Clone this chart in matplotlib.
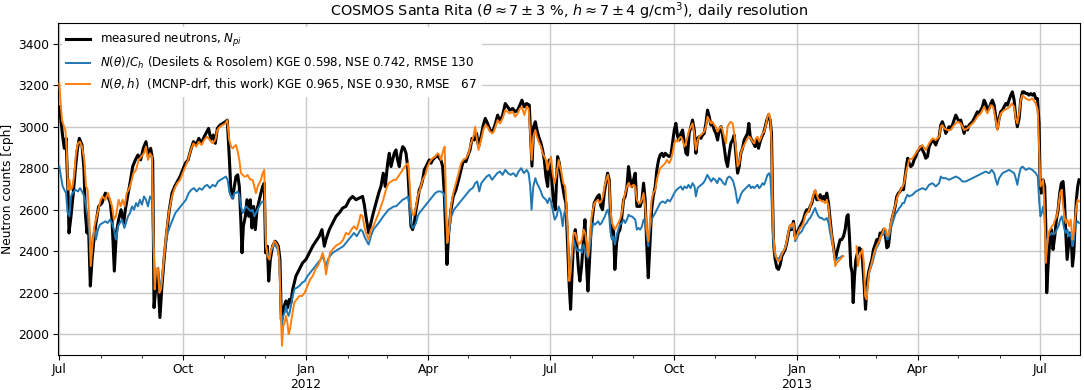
import numpy as np
import pandas as pd
import matplotlib
matplotlib.use("Agg")
import matplotlib.pyplot as plt
import matplotlib.dates as mdates

START = "2011-07-01"

# ---------------- measured neutrons (black) ----------------
black_day = [0, 1.2, 2.5, 3.7, 5, 6.5, 7.2, 8.7, 10.4, 11.9, 13.4, 14.9, 16.9, 18.4, 19.4, 20.6, 21.6, 23.1, 24.4, 25.8, 27.3, 29.3, 31.8, 34.3, 36.3, 38, 39.3, 41, 42.5, 44.2, 46, 48, 49.2, 50.9, 52.7, 54.7, 56.7, 58.6, 60.6, 62.6, 64.6, 66.4, 68.1, 69.6, 70.6, 71.8, 73.3, 75, 76.5, 78.3, 80, 82, 84, 86, 88, 90, 92, 94, 96, 98, 100, 102, 104, 106, 108, 110, 111.3, 113, 114.8, 116.3, 117.8, 119.8, 121.8, 123.8, 125.2,
             126.7, 128, 129.2, 130.5, 131.7, 133, 134.2, 135.4, 136.2, 137.2, 138.7, 139.9, 141.2, 142.4, 143.6, 144.9, 146.1, 147.4, 149.1, 150.3, 151.6, 152.8, 153.8, 155.1, 156.1, 157.3, 159, 160.8, 162, 163.3, 164.5, 165.5, 166.5, 167.7, 169, 170.2, 171.5, 172.7, 174, 176.4, 178.9, 181.4, 183.9, 186.4, 188.9, 191.3, 193.8, 195.8, 197.6, 198.8, 201.3, 203.8, 206.3, 208.7, 211.2, 213.7, 216.2, 218.7, 221.2, 223.6, 226.1, 227.4, 228.6, 230.6, 232.3, 234.1, 236.1, 238.1, 239.8, 241.5, 243, 244.8, 246, 247.3, 248.5, 249.7,
             251, 252.2, 253.5, 254.7, 256, 257.2, 258.5, 259.7, 261, 262.2, 263.4, 264.7, 265.9, 267.2, 268.4, 269.6, 270.9, 272.1, 273.4, 274.6, 275.9, 277.1, 278.3, 279.6, 280.8, 282.1, 283.3, 284.5, 285.8, 287, 288.3, 289, 290.3, 292, 293.7, 295.7, 297.7, 299.5, 300.7, 302, 303.2, 304.4, 306.2, 307.7, 309.4, 311.1, 312.6, 314.4, 316.1, 317.6, 319.3, 321.1, 323.1, 324.8, 326.8, 328.5, 330.5, 332.5, 334.2, 335.9, 338, 339.9, 341.7, 343.4, 344.9, 346.7, 348.4, 350.4, 351.6, 352.4, 353.6, 354.9, 356.1, 357.4, 359.1, 360.3, 361.6, 362.8, 364.1, 365.3, 366.8, 368.3, 369.8, 371.5, 372.8, 374, 375.3, 376.5, 377.7,
             379, 380.2, 381.2, 382.2, 383.4, 384.7, 385.9, 387.1, 388.1, 389.4, 390.6, 391.9, 393.1, 394.1, 395.1, 396.3, 397.6, 398.8, 400, 401.3, 402.5, 403.8, 405, 406.3, 407.5, 408.8, 410, 411, 412, 413.2, 414.2, 415.5, 416.7, 418, 419.4, 420.7, 421.9, 423.2, 424.4, 425.7, 426.9, 428.1, 429.4, 430.6, 431.9, 433.1, 434.4, 435.6, 436.8, 437.8, 439.1, 440.3, 441.6, 442.8, 444.3, 445.5, 446.8, 448, 449.3, 450.5, 451.8, 453, 454.7, 456, 457.2, 458.5, 459.7, 461, 462.2, 463.4, 464.7, 465.9, 467.2, 468.4, 469.6, 470.9, 472.1, 473.4, 474.6, 475.9, 477.1, 478.3, 479.6, 480.8, 482.1, 483.3, 484.6, 485.8, 487, 488.3, 489.5, 490.8, 492, 493.3, 494.5, 495.7, 497, 498.2, 499.5, 500.7, 502, 503.2, 504.4, 505.7,
             506.9, 508.1, 509.4, 510.6, 511.9, 513.1, 514.1, 515.1, 516.3, 517.6, 518.8, 520, 521.3, 522.5, 523.8, 525, 526.3, 527.5, 528.8, 530, 531, 531.7, 532.5, 533.7, 535, 536.2, 537.5, 538.7, 539.9, 541.2, 542.4, 543.7, 544.9, 546.1, 547.4, 548.6, 549.9, 551.1, 552.4, 553.6, 554.8, 556.1, 557.3, 558.6, 559.8, 561.1, 562.3, 563.5, 564.8, 566, 567.3, 568.5, 569.8, 571, 572.2, 573.5, 574.7, 576, 577.2, 578.5, 579.7, 580.9, 582.2, 583.4, 584.7, 585.9, 587.2, 588.1, 589.1, 590.1, 591.1, 591.9, 592.9, 593.9, 595.1, 596.3, 597.6, 598.8, 600.1, 601.1, 602.1, 603.3, 604.5, 605.8, 607, 608.3, 609.5, 610.8, 612, 613.2, 614.5, 615.7, 617, 618.2, 619.5, 620.7, 622, 623.2, 624.4, 625.7, 626.9, 628.2, 629.4, 630.6, 631.9, 632.6,
             633.6, 634.8, 636.1, 637.3, 638.6, 639.8, 641, 642.3, 643.5, 644.8, 646, 647.3, 648.5, 649.7, 651, 652.2, 653.5, 654.7, 656, 657.2, 658.4, 659.7, 660.9, 662.2, 663.4, 664.7, 665.9, 667.1, 668.4, 669.6, 670.9, 672.1, 673.4, 674.6, 675.8, 677.1, 678.3, 679.6, 680.8, 682.1, 683.3, 684.5, 685.8, 687, 688.3, 689.5, 690.7, 692, 693.2, 694.5, 695.7, 697, 698.2, 699.4, 700.7, 701.9, 703.2, 704.4, 705.7, 706.9, 708.1, 709.4, 710.6, 711.9, 713.1, 714.3, 715.6, 716.8, 718.1, 719.3, 720.6, 721.8, 723, 724.3, 725.5, 726.8, 728, 729.3, 730.5, 731.3, 732.2, 733.5, 734.7, 735.5, 736.2, 737.2, 738.5, 739.7, 740.9, 742.2, 743.4, 744.7, 745.9, 747.1, 748.4, 749.4, 750.4, 751.4, 752.4, 753.4, 754.4, 755.4, 756.4, 757.3, 758.3, 759.3, 760.3]
black_val = [3096, 3032, 2952, 2896, 2944, 2680, 2488, 2568, 2680, 2792, 2888, 2944, 2912, 2792, 2584, 2488, 2552, 2232, 2360, 2456, 2536, 2616, 2632, 2680, 2664, 2632, 2552, 2304, 2488, 2552, 2600, 2536, 2600, 2664, 2728, 2808, 2840, 2864, 2840, 2896, 2928, 2856, 2896, 2840, 2128, 2216, 2296, 2080, 2232, 2376, 2488, 2600, 2680, 2712, 2736, 2760, 2792, 2824, 2840, 2888, 2928, 2912, 2944, 2920, 2952, 2976, 2992, 2936, 2960, 2920, 2992, 3008, 3016, 3024, 3032,
             2856, 2680, 2656, 2712, 2760, 2768, 2712, 2536, 2392, 2520, 2568, 2648, 2568, 2648, 2512, 2616, 2504, 2600, 2648, 2680, 2712, 2728, 2392, 2424, 2256, 2360, 2424, 2448, 2440, 2424, 2360, 2072, 2104, 2136, 2160, 2128, 2168, 2152, 2216, 2280, 2312, 2344, 2360, 2392, 2424, 2448, 2472, 2504, 2424, 2456, 2504, 2536, 2568, 2584, 2608, 2616, 2648, 2664, 2648, 2656, 2664, 2624, 2568, 2488, 2536, 2584, 2632, 2680, 2712, 2776, 2712, 2824, 2872, 2808, 2840, 2872,
             2888, 2840, 2808, 2872, 2904, 2896, 2872, 2808, 2648, 2520, 2504, 2536, 2600, 2648, 2696, 2712, 2744, 2792, 2808, 2824, 2840, 2824, 2840, 2848, 2856, 2864, 2848, 2840, 2808, 2680, 2456, 2336, 2488, 2600, 2664, 2696, 2744, 2792, 2824, 2840, 2832, 2856, 2888, 2944, 2936, 2968, 2904, 2952, 3008, 3040, 3016, 2984, 2976, 3008, 3056, 3024, 3056, 3112, 3096, 3080, 3088, 3072, 3080, 3104, 3128, 3096, 3112, 3104, 2920, 2810, 3000, 3024, 2984, 2952, 2920, 2888, 2840, 2760, 2712, 2840, 2776, 2648, 2600, 2856, 2824, 2760, 2712, 2664, 2632,
             2424, 2232, 2120, 2280, 2456, 2504, 2424, 2312, 2256, 2328, 2440, 2552, 2328, 2208, 2328, 2488, 2568, 2632, 2648, 2664, 2672, 2616, 2600, 2680, 2728, 2776, 2744, 2568, 2472, 2504, 2312, 2440, 2488, 2504, 2568, 2648, 2664, 2712, 2808, 2744, 2712, 2744, 2776, 2616, 2616, 2616, 2648, 2728, 2648, 2456, 2272, 2424, 2600, 2664, 2712, 2792, 2840, 2864, 2872, 2856, 2872, 2864, 2856, 2864, 2920, 2984, 3016, 2952, 2936, 2968, 2984, 2928, 2872, 2864, 2968, 3000, 3032, 2984, 2872, 2944, 2952, 2944, 2960, 2968, 3016, 3080, 3048, 3008, 3016, 2984, 2968, 2936, 2984, 3000, 2960, 2904, 2840, 2808, 2872, 2920, 2936, 2960, 2872, 2776,
             2808, 2872, 2896, 2936, 2952, 2968, 3016, 2952, 2936, 2920, 2904, 2936, 2896, 2928, 2952, 2968, 3000, 3032, 3056, 3032, 2968, 2680, 2440, 2360, 2320, 2312, 2336, 2376, 2392, 2408, 2440, 2488, 2520, 2504, 2544, 2472, 2488, 2504, 2520, 2536, 2552, 2584, 2600, 2592, 2616, 2632, 2664, 2688, 2648, 2648, 2672, 2648, 2664, 2648, 2680, 2632, 2552, 2472, 2424, 2360, 2392, 2424, 2456, 2456, 2472, 2504, 2568, 2576, 2472, 2328, 2296, 2152, 2280, 2360, 2392, 2416, 2408, 2360, 2232, 2120, 2232, 2296, 2328, 2360, 2408, 2432, 2456, 2448, 2488, 2480, 2504, 2488, 2416, 2424, 2504, 2552, 2584, 2616, 2664, 2680, 2688, 2704, 2696, 2760, 2824, 2848,
             2824, 2808, 2816, 2840, 2856, 2880, 2888, 2904, 2888, 2872, 2848, 2856, 2904, 2920, 2936, 2928, 2912, 2936, 2952, 3008, 3024, 3000, 2968, 2984, 3000, 2992, 3008, 3032, 3056, 3040, 3024, 3032, 3000, 2968, 3000, 2984, 3008, 3016, 3024, 3040, 3056, 3072, 3064, 3080, 3096, 3128, 3112, 3080, 3088, 3112, 3128, 3104, 3048, 2992, 3040, 3072, 3080, 3096, 3112, 3104, 3128, 3152, 3168, 3128, 3048, 3000, 3040, 3128, 3168, 3168, 3160, 3160, 3152, 3160, 3152, 3160, 3136, 3136, 3016, 2712, 2680, 2744, 2712, 2520, 2200, 2328, 2456, 2504, 2408, 2472, 2552, 2600, 2680, 2728, 2736, 2648, 2488, 2360, 2424, 2488, 2472, 2328, 2392, 2520, 2648, 2712, 2744]

# ---------------- N(theta)/C_h, Desilets & Rosolem (blue) ----------------
blue_day = [0, 1.2, 2.5, 3.7, 5, 6.2, 7.5, 8.7, 9.9, 11.9, 13.9, 15.4, 16.9, 18.6, 19.9, 21.1, 22.4, 23.4, 24.9, 26.3, 27.3, 28.8, 30.3, 32.3, 34.3, 36, 37.8, 39.3, 40.7, 42.2, 43.7, 45.2, 46.7, 48.5, 49.7, 51.2, 52.7, 54.2, 55.7, 57.2, 58.6, 60.1, 61.6, 63.1, 64.6, 66.1, 67.6, 69.1, 70.1, 71.3, 72.6, 73.8, 75, 76.3, 77.5, 79, 80.8, 82.5, 84.5, 86.5, 88.5, 90.5, 92.4, 94.4, 96.4, 98.4, 100.4, 102.4, 104.4, 106.4, 108.3, 110.3, 112.3, 114.3, 116.3, 118.3, 120.3, 122.3, 124.2,
            125.5, 126.7, 128, 129.2, 130.5, 131.7, 133, 134.2, 135.4, 136.7, 137.9, 139.2, 140.4, 141.6, 142.9, 144.1, 145.4, 146.6, 147.9, 149.1, 150.3, 151.6, 152.8, 154.1, 155.3, 156.6, 157.8, 159, 160.3, 161.5, 162.8, 164, 165.3, 166, 167, 168, 169, 170, 171, 172, 173.5, 175.2, 177, 178.9, 181, 183, 185, 187, 188.9, 190.9, 192.8, 194.8, 196.3, 197.6, 198.8, 200.3, 201.8, 203.8, 205.8, 207.7, 209.7, 211.7, 213.7, 215.7, 217.7, 219.7, 221.7, 223.2, 224.6, 226.1, 227.4, 228.6, 230.6, 232.3, 234.1, 236.1, 238.1, 239.8, 241.5, 243.5, 245.5, 247.5, 249.5,
            251, 253.5, 256, 258.5, 260, 261, 262.2, 263.4, 264.7, 265.9, 267.2, 268.4, 270.4, 272.4, 274.4, 276.3, 278.3, 280.3, 282.3, 284.3, 286.3, 287.3, 288.3, 289.3, 290.8, 292.3, 294.2, 296.2, 298.2, 300.2, 302.2, 304.2, 306.2, 308.2, 310.1, 311.6, 313.1, 314.6, 316.6, 318.6, 320.6, 322.6, 324.6, 326.5, 328.5, 330.5, 332.5, 334.5, 336.5, 338.5, 340.5, 342.4, 344.4, 346.4, 348.4, 349.9, 351.1, 352.1, 353.4, 354.9, 356.1, 357.4, 359.1, 360.3, 361.6, 362.8, 364.1, 365.3, 366.6, 367.8, 369.3, 370.8, 372.3, 374, 375.3, 376.5, 377.7,
            379, 380.2, 381.2, 382.2, 383.4, 384.7, 385.9, 387.1, 388.4, 389.6, 390.9, 392.1, 393.4, 394.3, 395.6, 396.8, 398.1, 399.3, 400.6, 401.8, 403, 404.3, 405.5, 406.8, 408, 409, 410, 411, 412, 413.2, 414.2, 415.5, 416.7, 418, 419.4, 420.7, 421.9, 423.2, 424.4, 425.7, 426.9, 428.1, 429.4, 430.6, 431.9, 433.1, 434.4, 435.6, 436.8, 438.1, 439.1, 440.3, 441.6, 442.8, 444.3, 445.5, 446.8, 448, 449.8, 451.8, 453.5, 455.2, 456.7, 458.5, 460.2, 461.7, 463.4, 464.7, 466.2, 467.7, 469.1, 470.6, 472.1, 473.6, 474.6, 475.9, 477.1, 478.6, 480.1, 481.6, 483.1, 484.6, 486.1, 487.5, 489, 490.5, 492, 493.5, 495, 496.5, 498, 499.5, 501, 502.5, 504, 505.7,
            506.9, 508.1, 509.4, 510.6, 511.9, 513.1, 514.4, 515.6, 516.8, 518.1, 519.3, 520.6, 521.8, 523, 524.3, 525.5, 526.8, 528, 529.3, 530.2, 531, 531.7, 532.5, 533.7, 535, 536.2, 537.5, 538.7, 539.9, 541.2, 542.4, 543.7, 544.9, 546.1, 547.4, 548.6, 549.9, 551.1, 552.4, 553.6, 554.8, 556.1, 557.3, 558.6, 559.8, 561.1, 562.3, 563.5, 564.8, 566, 567.3, 568.5, 569.8, 571, 572.2, 573.5, 574.7, 576, 577.2, 578.5, 579.7, 580.9, 582.2, 583.4, 584.4, 592,
            601.3, 602.6, 603.8, 605, 606.3, 607.5, 608.8, 610, 611.3, 612.5, 613.7, 615, 616.2, 617.5, 618.7, 620, 621.2, 622.4, 623.7, 624.9, 626.2, 627.4, 628.7, 629.9, 631.1, 632.4,
            633.6, 636.1, 638.6, 641, 643.5, 646, 648.5, 651, 653.5, 656, 657.2, 658.4, 660.9, 663.4, 665.9, 668.4, 670.9, 673.4, 675.8, 678.3, 680.8, 683.3, 685.8, 688.3, 690.7, 693.2, 695.2, 697, 698.2, 699.4, 700.7, 703.2, 705.7, 708.1, 710.1, 711.9, 713.1, 714.3, 715.6, 716.8, 718.1, 720.6, 723, 725.5, 728, 729.5, 730.5, 731.5, 732.5, 733.5, 734.5, 735.5, 736.5, 737.5, 738.7, 740, 741.2, 742.4, 743.7, 744.9, 746.2, 747.4, 748.4, 749.4, 750.4, 751.6, 752.9, 754.1, 755.4, 756.3, 757.3, 758.3, 759.3, 760.3]
blue_val = [2808, 2760, 2712, 2696, 2680, 2584, 2568, 2664, 2680, 2696, 2688, 2704, 2688, 2664, 2616, 2568, 2488, 2360, 2472, 2504, 2456, 2504, 2528, 2536, 2544, 2536, 2552, 2536, 2504, 2456, 2520, 2536, 2552, 2512, 2536, 2568, 2584, 2616, 2600, 2632, 2616, 2648, 2624, 2664, 2648, 2616, 2664, 2648, 2424, 2264, 2312, 2320, 2232, 2248, 2328, 2424, 2488, 2520, 2552, 2584, 2600, 2616, 2632, 2648, 2680, 2696, 2704, 2688, 2704, 2696, 2712, 2720, 2704, 2720, 2712, 2736, 2744, 2752, 2760,
            2744, 2688, 2664, 2656, 2680, 2680, 2688, 2672, 2616, 2584, 2600, 2616, 2608, 2600, 2592, 2600, 2568, 2584, 2600, 2616, 2632, 2640, 2640, 2424, 2392, 2360, 2400, 2416, 2432, 2424, 2408, 2360, 2104, 2040, 2088, 2104, 2136, 2104, 2088, 2112, 2168, 2216, 2224, 2232, 2248, 2256, 2280, 2296, 2312, 2328, 2344, 2360, 2376, 2352, 2328, 2360, 2376, 2392, 2400, 2408, 2416, 2424, 2440, 2456, 2472, 2488, 2472, 2488, 2504, 2496, 2472, 2456, 2432, 2472, 2504, 2520, 2536, 2552, 2568, 2584, 2600, 2608, 2616,
            2616, 2632, 2648, 2656, 2664, 2616, 2536, 2512, 2520, 2536, 2568, 2584, 2600, 2616, 2632, 2648, 2664, 2680, 2688, 2688, 2680, 2664, 2552, 2448, 2504, 2568, 2600, 2616, 2632, 2648, 2664, 2680, 2696, 2704, 2728, 2736, 2688, 2728, 2744, 2760, 2768, 2744, 2760, 2776, 2784, 2768, 2792, 2776, 2768, 2776, 2760, 2784, 2800, 2776, 2792, 2776, 2712, 2600, 2712, 2752, 2728, 2712, 2688, 2664, 2656, 2648, 2632, 2656, 2640, 2600, 2552, 2568, 2616, 2584, 2520, 2584, 2600,
            2488, 2360, 2328, 2392, 2456, 2424, 2408, 2400, 2408, 2392, 2432, 2408, 2376, 2368, 2424, 2488, 2536, 2528, 2536, 2544, 2528, 2536, 2552, 2568, 2592, 2600, 2568, 2488, 2456, 2472, 2432, 2472, 2504, 2528, 2536, 2552, 2536, 2552, 2576, 2568, 2568, 2560, 2552, 2504, 2512, 2504, 2520, 2552, 2536, 2472, 2424, 2504, 2552, 2568, 2584, 2600, 2616, 2632, 2640, 2632, 2648, 2640, 2656, 2680, 2696, 2704, 2712, 2696, 2712, 2704, 2720, 2704, 2728, 2712, 2664, 2704, 2712, 2720, 2728, 2744, 2768, 2752, 2736, 2752, 2744, 2728, 2752, 2744, 2728, 2720, 2752, 2760, 2752, 2736, 2696, 2632,
            2648, 2672, 2688, 2696, 2704, 2712, 2720, 2704, 2712, 2704, 2712, 2720, 2704, 2712, 2728, 2720, 2744, 2768, 2776, 2752, 2648, 2520, 2424, 2376, 2368, 2360, 2376, 2392, 2400, 2416, 2448, 2496, 2520, 2512, 2528, 2448, 2464, 2480, 2488, 2496, 2512, 2528, 2536, 2552, 2560, 2576, 2592, 2608, 2584, 2568, 2560, 2560, 2552, 2552, 2560, 2536, 2488, 2448, 2408, 2352, 2360, 2368, 2368, 2376, 2376, np.nan,
            2184, 2232, 2296, 2320, 2344, 2376, 2408, 2424, 2440, 2472, 2480, 2496, 2480, 2456, 2472, 2512, 2536, 2560, 2584, 2592, 2608, 2616, 2632, 2632, 2656, 2672,
            2664, 2672, 2688, 2696, 2704, 2696, 2720, 2728, 2712, 2728, 2760, 2752, 2752, 2744, 2752, 2760, 2752, 2736, 2736, 2744, 2752, 2760, 2768, 2776, 2784, 2776, 2792, 2776, 2744, 2720, 2752, 2776, 2784, 2792, 2784, 2776, 2752, 2720, 2768, 2800, 2808, 2792, 2800, 2792, 2776, 2760, 2648, 2568, 2584, 2616, 2568, 2424, 2456, 2472, 2480, 2488, 2480, 2488, 2504, 2520, 2552, 2568, 2536, 2504, 2488, 2504, 2472, 2488, 2424, 2448, 2504, 2536, 2544, 2536]

# ---------------- N(theta, h), MCNP-drf (orange) ----------------
orange_day = [0, 1, 2, 3.5, 4.5, 5.5, 6.5, 7.5, 8.7, 9.9, 11.2, 12.4, 13.9, 15.4, 16.9, 18.6, 19.9, 21.1, 22.4, 23.4, 24.6, 26.1, 27.3, 29.1, 30.8, 32.3, 34.3, 36.3, 37.8, 39.3, 40.7, 42.2, 44.2, 45.7, 47.2, 48.7, 50.2, 51.7, 53.4, 55.2, 57.2, 59.1, 61.1, 63.1, 64.6, 66.1, 67.6, 69.1, 70.1, 71.1, 72.1, 73.3, 74.6, 75.8, 77, 78.5, 80, 82, 84, 86, 88, 90, 92, 94, 96, 98, 100, 102, 104, 106, 108, 110, 112.3, 114.3, 116.3, 117.8, 119.8, 121.8, 123.8, 125.2,
              126.7, 128, 129.2, 130.5, 131.7, 133, 134.2, 135.4, 136.7, 137.9, 139.2, 140.4, 141.6, 142.9, 144.1, 145.4, 146.6, 147.9, 149.1, 150.3, 151.6, 152.8, 154.1, 155.3, 156.6, 157.8, 159, 160.3, 161.5, 162.8, 164, 165.3, 166, 167, 168, 169, 170, 171, 172, 173.5, 175.2, 177, 178.9, 181, 183, 185, 187, 188.9, 190.9, 192.8, 194.8, 196.3, 197.6, 198.8, 200.3, 201.8, 203.8, 205.8, 207.7, 209.7, 211.7, 213.7, 215.7, 217.7, 219.7, 221.7, 223.2, 224.6, 226.1, 227.4, 228.6, 230.6, 232.3, 234.1, 236.1, 238.1, 239.8, 241.5, 243.5, 245.5, 247.5, 249.5,
              251, 253.5, 256, 258.5, 260, 261, 262.2, 263.4, 264.7, 265.9, 267.2, 268.4, 269.6, 270.9, 272.9, 274.6, 276.3, 278.3, 280.3, 282.1, 283.3, 284.5, 286.3, 287.3, 288.3, 289.3, 290.3, 292, 293.7, 295.7, 297.7, 299.5, 301.2, 303.2, 305.2, 306.9, 308.7, 310.1, 311.1, 312.6, 314.4, 316.1, 317.6, 319.3, 321.1, 323.1, 324.8, 326.8, 328.5, 330.5, 332.5, 334.2, 335.9, 338, 339.9, 341.7, 343.4, 344.9, 346.7, 348.4, 349.9, 351.1, 352.1, 353.4, 354.9, 356.1, 357.4, 359.1, 360.3, 361.6, 362.8, 364.1, 365.3, 366.6, 367.8, 369.3, 370.8, 372.3, 373.3, 374.5, 375.7, 377.2,
              379, 380.2, 381.2, 382.2, 383.4, 384.7, 385.9, 387.1, 388.4, 389.6, 390.9, 392.1, 393.4, 394.3, 395.3, 396.6, 397.8, 399, 400.3, 401.6, 402.8, 404, 405.3, 406.5, 407.8, 409, 410, 411, 412, 413.2, 414.2, 415.5, 416.7, 418, 419.4, 420.7, 421.9, 423.2, 424.4, 425.7, 426.9, 428.1, 429.4, 430.6, 431.9, 433.1, 434.4, 435.6, 436.8, 438.1, 439.1, 440.3, 441.6, 442.8, 444.3, 445.5, 446.8, 448, 449.3, 450.5, 451.8, 453, 454.7, 456, 457.2, 458.5, 459.7, 461, 462.2, 463.4, 464.7, 465.9, 467.2, 468.4, 469.6, 470.9, 472.1, 473.4, 474.6, 475.9, 477.1, 478.3, 479.6, 480.8, 482.1, 483.3, 484.6, 485.8, 487, 488.3, 489.5, 490.8, 492, 493.3, 494.5, 495.7, 497, 498.2, 499.5, 500.7, 502, 503.2, 504.4, 505.7,
              506.9, 508.1, 509.4, 510.6, 511.9, 513.1, 514.4, 515.6, 516.8, 518.1, 519.3, 520.6, 521.8, 523, 524.3, 525.5, 526.8, 528, 529.3, 530.2, 531, 531.7, 532.5, 533.7, 535, 536.2, 537.5, 538.7, 539.9, 541.2, 542.4, 543.7, 544.9, 546.1, 547.4, 548.6, 549.9, 551.1, 552.4, 553.6, 554.8, 556.1, 557.3, 558.6, 559.8, 561.1, 562.3, 563.5, 564.8, 566, 567.3, 568.5, 569.8, 571, 572.2, 573.5, 574.7, 576, 577.2, 578.5, 579.7, 580.9, 582.2, 583.4, 584.4, 589,
              594.4, 595.4, 596.3, 597.6, 598.8, 599.8, 600.8, 601.8, 602.8, 603.8, 605, 606.3, 607.5, 608.8, 610, 611.3, 612.5, 613.7, 615, 616.2, 617.5, 618.7, 620, 621.2, 622.4, 623.7, 624.9, 626.2, 627.4, 628.7, 629.9, 631.1, 632.4,
              633.6, 636.1, 638.6, 641, 643.5, 646, 648.5, 651, 653.5, 656, 657.2, 658.4, 659.7, 662.2, 664.7, 667.1, 669.6, 672.1, 674.6, 677.1, 679.6, 682.1, 684.5, 687, 689.5, 692, 694.5, 696.2, 697.7, 699.4, 700.7, 701.9, 704.4, 706.9, 708.6, 710.1, 711.9, 713.1, 714.3, 715.6, 716.8, 718.1, 720.6, 723, 725.5, 728, 729.5, 730.5, 731.5, 732.5, 733.5, 734.5, 735.5, 736.5, 737.5, 738.7, 740, 741.2, 742.4, 743.7, 744.9, 746.2, 747.4, 748.4, 749.4, 750.4, 751.6, 752.9, 754.1, 755.4, 756.3, 757.3, 758.3, 759.3, 760.3]
orange_val = [3208, 3112, 3032, 3000, 2984, 2888, 2696, 2744, 2696, 2712, 2776, 2872, 2920, 2928, 2904, 2840, 2712, 2696, 2552, 2328, 2424, 2520, 2552, 2600, 2648, 2664, 2648, 2680, 2648, 2616, 2552, 2568, 2648, 2616, 2648, 2616, 2680, 2696, 2728, 2776, 2792, 2840, 2856, 2872, 2904, 2840, 2872, 2856, 2520, 2216, 2312, 2320, 2200, 2216, 2296, 2408, 2504, 2600, 2664, 2704, 2728, 2744, 2776, 2808, 2840, 2888, 2920, 2904, 2928, 2912, 2936, 2952, 2936, 2920, 2936, 2984, 3000, 3008, 3016, 3032,
              2936, 2904, 2896, 2904, 2912, 2880, 2840, 2776, 2768, 2760, 2760, 2768, 2752, 2744, 2744, 2712, 2680, 2712, 2728, 2744, 2776, 2792, 2424, 2376, 2360, 2408, 2424, 2448, 2440, 2424, 2360, 2072, 1944, 2040, 2056, 2088, 2056, 2000, 2024, 2088, 2152, 2168, 2184, 2184, 2200, 2232, 2264, 2280, 2312, 2328, 2360, 2392, 2360, 2288, 2344, 2392, 2408, 2424, 2432, 2440, 2456, 2488, 2480, 2504, 2520, 2504, 2536, 2576, 2568, 2520, 2488, 2456, 2504, 2520, 2552, 2584, 2616, 2648, 2696, 2728, 2736, 2744,
              2744, 2768, 2792, 2816, 2824, 2744, 2616, 2576, 2576, 2616, 2664, 2688, 2712, 2744, 2768, 2808, 2832, 2848, 2856, 2872, 2864, 2840, 2888, 2904, 2648, 2440, 2488, 2616, 2680, 2728, 2776, 2824, 2840, 2848, 2872, 2920, 2952, 3000, 2952, 2888, 2936, 2984, 3008, 3000, 2976, 2968, 2992, 3032, 3016, 3040, 3080, 3072, 3064, 3072, 3048, 3064, 3088, 3096, 3056, 3096, 3088, 2968, 2840, 2952, 2984, 2952, 2928, 2904, 2872, 2856, 2840, 2792, 2824, 2856, 2776, 2728, 2776, 2840, 2808, 2776, 2728, 2712,
              2520, 2256, 2296, 2392, 2488, 2488, 2456, 2432, 2440, 2456, 2504, 2488, 2424, 2376, 2456, 2552, 2600, 2632, 2640, 2648, 2632, 2640, 2664, 2712, 2744, 2768, 2728, 2600, 2536, 2520, 2504, 2520, 2536, 2552, 2584, 2648, 2680, 2712, 2728, 2712, 2712, 2720, 2712, 2648, 2632, 2632, 2648, 2680, 2616, 2504, 2448, 2536, 2648, 2680, 2696, 2744, 2776, 2800, 2808, 2816, 2824, 2840, 2824, 2840, 2872, 2920, 2936, 2928, 2944, 2952, 2936, 2904, 2920, 2952, 2984, 3000, 3016, 2968, 2888, 2936, 2952, 2960, 2968, 2976, 3000, 3048, 3032, 3016, 3024, 3008, 3000, 2976, 2992, 3000, 2984, 2952, 2920, 3000, 3016, 3024, 3016, 2968, 2904, 2808,
              2824, 2872, 2896, 2912, 2928, 2944, 2952, 2944, 2928, 2920, 2944, 2952, 2928, 2944, 2968, 2976, 3008, 3048, 3064, 3032, 2920, 2680, 2472, 2392, 2360, 2352, 2360, 2384, 2400, 2416, 2448, 2496, 2528, 2520, 2536, 2456, 2472, 2496, 2512, 2520, 2536, 2568, 2584, 2592, 2616, 2640, 2672, 2696, 2672, 2648, 2648, 2640, 2640, 2632, 2648, 2616, 2536, 2472, 2408, 2328, 2344, 2352, 2360, 2368, 2376, np.nan,
              2424, 2328, 2360, 2392, 2408, 2344, 2184, 2168, 2232, 2296, 2328, 2360, 2392, 2416, 2432, 2448, 2472, 2488, 2512, 2504, 2472, 2488, 2536, 2568, 2600, 2632, 2664, 2680, 2696, 2712, 2728, 2776, 2808,
              2840, 2848, 2872, 2896, 2912, 2888, 2920, 2944, 2936, 2952, 3000, 3008, 2992, 2984, 2984, 3008, 3024, 3016, 2984, 2992, 3008, 3024, 3048, 3064, 3096, 3064, 3104, 3096, 3048, 2984, 3032, 3064, 3080, 3088, 3096, 3112, 3096, 3040, 3016, 3064, 3128, 3152, 3136, 3128, 3136, 3112, 3080, 2904, 2712, 2728, 2744, 2616, 2344, 2424, 2488, 2504, 2520, 2528, 2552, 2568, 2616, 2680, 2696, 2616, 2568, 2536, 2552, 2520, 2552, 2456, 2488, 2552, 2616, 2648, 2640]

legend_labels = [
    r"measured neutrons, $N_{pi}$",
    r"$N(\theta)/C_h$ (Desilets & Rosolem) KGE 0.598, NSE 0.742, RMSE 130",
    r"$N(\theta, h)$  (MCNP-drf, this work) KGE 0.965, NSE 0.930, RMSE   67",
]
title = (r"COSMOS Santa Rita ($\theta \approx 7 \pm 3$ %, $h \approx 7 \pm 4$ g/cm$^3$),"
         r" daily resolution")
ylabel = "Neutron counts [cph]"
y_ticks = [2000, 2200, 2400, 2600, 2800, 3000, 3200, 3400]
x_tick_dates = ["2011-07-01", "2011-10-01", "2012-01-01", "2012-04-01", "2012-07-01",
                "2012-10-01", "2013-01-01", "2013-04-01", "2013-07-01"]
x_tick_labels = ["Jul", "Oct", "Jan\n2012", "Apr", "Jul", "Oct", "Jan\n2013", "Apr", "Jul"]


def to_dates(days):
    return pd.Timestamp(START) + pd.to_timedelta(np.asarray(days, dtype=float), unit="D")


fig = plt.figure(figsize=(10.84, 3.9), dpi=100)
ax = fig.add_axes([0.0535, 0.09, 0.9428, 0.851])

ax.plot(to_dates(black_day), black_val, color="black", lw=2.2, label=legend_labels[0], zorder=3)
ax.plot(to_dates(blue_day), blue_val, color="#1f77b4", lw=1.4, label=legend_labels[1], zorder=4)
ax.plot(to_dates(orange_day), orange_val, color="#ff7f0e", lw=1.4, label=legend_labels[2], zorder=5)

ax.set_ylim(1900, 3500)
ax.set_yticks(y_ticks)
ax.set_xlim(pd.Timestamp(START) - pd.Timedelta(days=1), pd.Timestamp(START) + pd.Timedelta(days=761))
ax.set_xticks(pd.to_datetime(x_tick_dates))
ax.set_xticklabels(x_tick_labels)
ax.xaxis.set_minor_locator(mdates.MonthLocator())
ax.tick_params(axis="both", labelsize=8.8, pad=3)
ax.tick_params(axis="x", pad=2.5)
ax.grid(True, which="major", color="#c8c8c8", lw=1.0)
ax.set_axisbelow(True)
ax.set_ylabel(ylabel, fontsize=8.8, labelpad=3)
ax.set_title(title, fontsize=10.4, pad=5)

leg = ax.legend(loc="upper left", fontsize=8.6, frameon=True, fancybox=False,
                edgecolor="white", framealpha=1.0, borderaxespad=0.3,
                labelspacing=0.45, handlelength=2.0)

fig.savefig("out.png", dpi=100)
